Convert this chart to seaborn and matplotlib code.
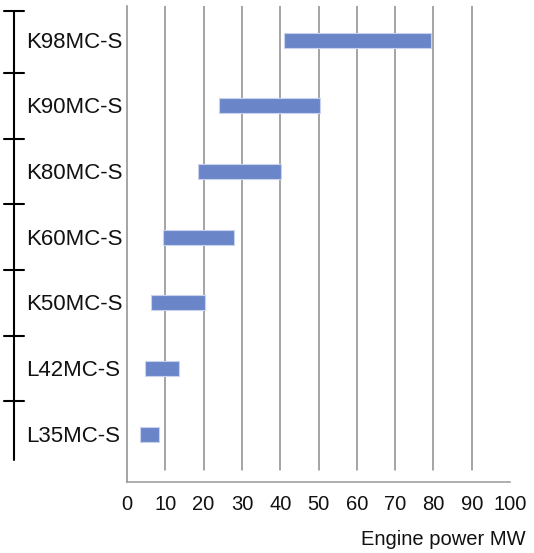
import matplotlib
matplotlib.use("Agg")
import matplotlib.pyplot as plt
import seaborn as sns
import pandas as pd

# engine families and their power range (MW)
engines = ["K98MC-S", "K90MC-S", "K80MC-S", "K60MC-S", "K50MC-S", "L42MC-S", "L35MC-S"]
power_min = [41, 24, 18.5, 9.5, 6.3, 4.7, 3.4]
power_max = [79.5, 50.5, 40.3, 28, 20.3, 13.7, 8.3]
x_ticks = [0, 10, 20, 30, 40, 50, 60, 70, 80, 90, 100]

df = pd.DataFrame({"engine": engines, "lo": power_min, "hi": power_max})
df["span"] = df["hi"] - df["lo"]

sns.set_style("white")
plt.rcParams["font.family"] = ["Liberation Sans", "DejaVu Sans"]

W, H = 534, 553
fig = plt.figure(figsize=(W / 100, H / 100), dpi=100)
fig.patch.set_facecolor("white")

# main plot area in pixel terms
left_px, right_px, top_px, bottom_px = 127, 510, 6, 482
ax = fig.add_axes([left_px / W, 1 - bottom_px / H,
                   (right_px - left_px) / W, (bottom_px - top_px) / H])

sns.barplot(data=df, x="span", y="engine", orient="h", color="#6a86c8",
            width=0.23, left=df["lo"].values, saturation=1,
            edgecolor="#c9d3ee", linewidth=0.8, ax=ax, zorder=3)

ax.set_xlim(0, 100)
ax.set_ylim(6.73, -0.52)
ax.set_xticks(x_ticks)
ax.set_xticklabels([str(t) for t in x_ticks], fontsize=14.5)
ax.tick_params(axis="x", length=0, pad=9, colors="#111111")
ax.set_yticks([])
ax.set_xlabel("")
ax.set_ylabel("")

for v in x_ticks[1:-1]:
    ax.axvline(v, ymin=0.025, ymax=1, color="#8c8c8c", lw=1.1, zorder=1)

for s in ["top", "right"]:
    ax.spines[s].set_visible(False)
ax.spines["left"].set_color("#8c8c8c")
ax.spines["left"].set_linewidth(1.1)
ax.spines["bottom"].set_color("#9a9a9a")
ax.spines["bottom"].set_linewidth(1.1)

# left bracket axis with category labels
lax = fig.add_axes([0, 1 - bottom_px / H, left_px / W, (bottom_px - top_px) / H],
                   sharey=ax)
lax.set_xlim(0, left_px)
lax.axis("off")
n = len(engines)
lax.plot([14, 14], [-0.45, n - 0.6], color="black", lw=1.5)
for i in range(n):
    b = i - 0.5 if i > 0 else -0.45
    lax.plot([4, 24], [b, b], color="black", lw=1.5)
    lax.text(26, i + 0.03, engines[i], ha="left", va="center", fontsize=16,
             color="#111111")

fig.text(526 / W, 1 - 545 / H, "Engine power MW", ha="right", va="baseline",
         fontsize=14.5, color="#111111")

fig.savefig("out.png", dpi=100)
